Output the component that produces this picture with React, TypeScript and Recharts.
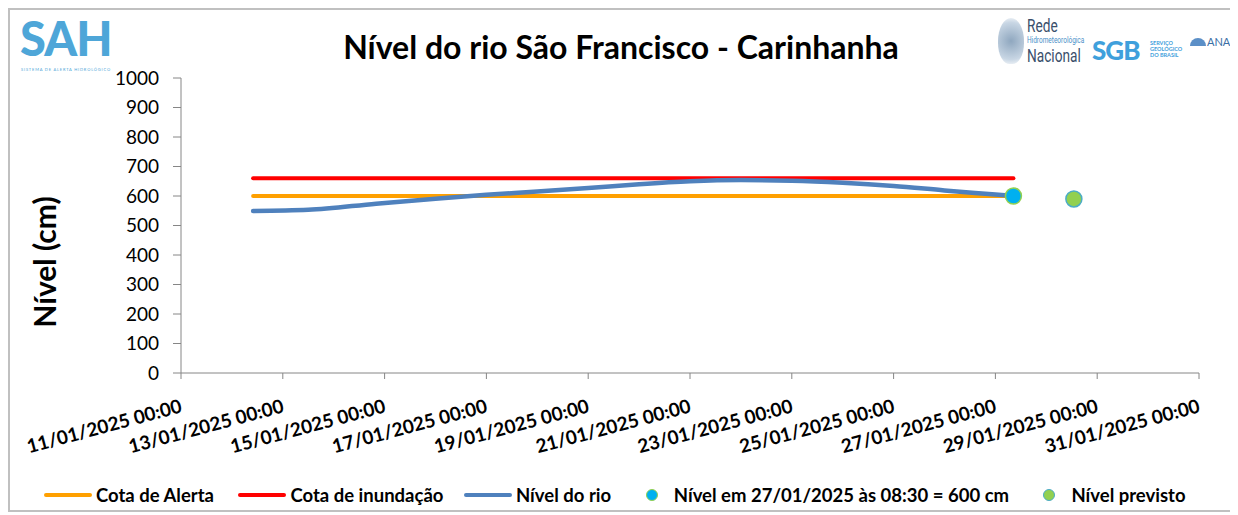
import React from "react";
import { ComposedChart, Line, Scatter, XAxis, YAxis, Legend } from "recharts";

// datas (dd/mm/aaaa hh:mm)
const nivelDatas = [
  "12/01/2025 10:00", "13/01/2025 12:00", "14/01/2025 20:00", "16/01/2025 00:00",
  "17/01/2025 00:00", "18/01/2025 00:00", "19/01/2025 00:00", "20/01/2025 00:00",
  "21/01/2025 00:00", "22/01/2025 00:00", "23/01/2025 00:00", "24/01/2025 00:00",
  "25/01/2025 00:00", "26/01/2025 00:00", "27/01/2025 00:00", "27/01/2025 08:30",
];
const nivelValores = [549, 553, 574, 591, 604, 615, 627, 640, 650, 654, 652, 645, 634, 619, 605, 600];

const cotaDatas = ["12/01/2025 10:00", "27/01/2025 08:30"];
const cotaAlerta = [600, 600];
const cotaInundacao = [660, 660];

const atualData = "27/01/2025 08:30";
const atualValor = 600;
const previstoData = "28/01/2025 13:00";
const previstoValor = 590;

const xTickLabels = [
  "11/01/2025 00:00", "13/01/2025 00:00", "15/01/2025 00:00", "17/01/2025 00:00",
  "19/01/2025 00:00", "21/01/2025 00:00", "23/01/2025 00:00", "25/01/2025 00:00",
  "27/01/2025 00:00", "29/01/2025 00:00", "31/01/2025 00:00",
];
const yTicks = [0, 100, 200, 300, 400, 500, 600, 700, 800, 900, 1000];

const FONT = "Lato, 'Open Sans', sans-serif";

// dias desde 11/01/2025 00:00
function toDays(s: string) {
  const [d, m, rest] = s.split("/");
  const [y, hm] = rest.split(" ");
  const [h, mi] = hm.split(":");
  const t = Date.UTC(+y, +m - 1, +d, +h, +mi);
  return (t - Date.UTC(2025, 0, 11)) / 86400000;
}

const nivelData = nivelDatas.map((d, i) => ({ t: toDays(d), v: nivelValores[i] }));
const alertaData = cotaDatas.map((d, i) => ({ t: toDays(d), v: cotaAlerta[i] }));
const inundacaoData = cotaDatas.map((d, i) => ({ t: toDays(d), v: cotaInundacao[i] }));
const atualData2 = [{ t: toDays(atualData), v: atualValor }];
const previstoData2 = [{ t: toDays(previstoData), v: previstoValor }];
const xTicks = xTickLabels.map(toDays);

const XTick = (props: any) => {
  const { x, y, payload } = props;
  const idx = xTicks.indexOf(payload.value);
  const lx = x + 2;
  const ly = y + 31;
  return (
    <text x={lx} y={ly} transform={`rotate(-15 ${lx} ${ly})`} textAnchor="end"
      fontFamily={FONT} fontWeight={700} fontSize={19} fill="#000">
      {xTickLabels[idx]}
    </text>
  );
};

const YLabel = () => (
  <text x={46} y={252} transform="rotate(-90 46 252)" textAnchor="middle"
    fontFamily={FONT} fontWeight={700} fontSize={30} fill="#000">
    Nível (cm)
  </text>
);

const legendItems = [
  { label: "Cota de Alerta", color: "#ffa000", kind: "line", w: 200 },
  { label: "Cota de inundação", color: "#ff0000", kind: "line", w: 232 },
  { label: "Nível do rio", color: "#4f81bd", kind: "line", w: 187 },
  { label: "Nível em 27/01/2025 às 08:30 = 600 cm", color: "#00b0f0", stroke: "#92d050", kind: "dot", w: 409 },
  { label: "Nível previsto", color: "#92d050", stroke: "#4bacc6", kind: "dot", w: 160 },
];

const LegendContent = () => (
  <div style={{ display: "flex", alignItems: "center", paddingLeft: 34, fontFamily: FONT, fontWeight: 700, fontSize: 18.5, color: "#000" }}>
    {legendItems.map((it) => (
      <div key={it.label} style={{ width: it.w, display: "flex", alignItems: "center" }}>
        {it.kind === "line" ? (
          <span style={{ width: 48, height: 4, borderRadius: 2, background: it.color, marginRight: 4 }} />
        ) : (
          <span style={{ width: 10, height: 10, borderRadius: 6, background: it.color, border: `1.5px solid ${it.stroke}`, marginRight: 16 }} />
        )}
        <span>{it.label}</span>
      </div>
    ))}
  </div>
);

const narrow: React.CSSProperties = { transform: "scaleX(0.72)", transformOrigin: "left", whiteSpace: "nowrap" };

export default function App() {
  return (
    <div style={{ position: "relative", width: 1222, height: 500, border: "2px solid #c0c0c0", background: "#fff" }}>
      {/* logo SAH */}
      <div style={{ position: "absolute", left: 10, top: 8, height: 40, fontFamily: FONT, fontSize: 47, fontWeight: 900, letterSpacing: -1, lineHeight: "40px", color: "#4ea6d8" }}>SAH</div>
      <div style={{ position: "absolute", left: 11, top: 57, fontFamily: FONT, fontSize: 4, lineHeight: "5px", letterSpacing: 0.8, color: "#4ea6d8" }}>SISTEMA DE ALERTA HIDROLÓGICO</div>
      {/* título */}
      <div style={{ position: "absolute", left: 0, width: 1222, top: 21, lineHeight: 1, textAlign: "center", fontFamily: FONT, fontWeight: 700, fontSize: 32 }}>
        Nível do rio São Francisco - Carinhanha
      </div>
      {/* logos à direita */}
      <div style={{ position: "absolute", left: 988, top: 8, width: 26, height: 46, borderRadius: "50% 50% 45% 45%", background: "radial-gradient(circle, #8fa7bf 0%, #c8d6e4 70%, #fff 100%)" }} />
      <div style={{ position: "absolute", left: 1017, top: 6, fontFamily: "Roboto, sans-serif", color: "#3a4f6b", lineHeight: 1 }}>
        <div style={{ ...narrow, fontSize: 19 }}>Rede</div>
        <div style={{ ...narrow, fontSize: 9, color: "#4a90c8", margin: "1px 0" }}>Hidrometeorológica</div>
        <div style={{ ...narrow, fontSize: 19 }}>Nacional</div>
      </div>
      <div style={{ position: "absolute", left: 1082, top: 24, fontFamily: FONT, fontWeight: 900, fontSize: 26, color: "#3fa0dc", letterSpacing: -1 }}>SGB</div>
      <div style={{ position: "absolute", left: 1140, top: 30, fontFamily: FONT, fontWeight: 700, fontSize: 5.5, color: "#3fa0dc", lineHeight: 1.1 }}>
        SERVIÇO<br />GEOLÓGICO<br />DO BRASIL
      </div>
      <div style={{ position: "absolute", left: 1180, top: 28, width: 16, height: 8, borderRadius: "8px 8px 0 0", background: "#5b8fc7" }} />
      <div style={{ position: "absolute", left: 1197, top: 25, fontFamily: FONT, fontSize: 11, color: "#3a6ea5" }}>ANA</div>

      <ComposedChart width={1222} height={500} margin={{ top: 68, right: 33, left: 0, bottom: 4 }}>
        <XAxis dataKey="t" type="number" domain={[0, 20]} ticks={xTicks} interval={0}
          tick={<XTick />} height={111} stroke="#868686" tickSize={6} allowDuplicatedCategory={false} />
        <YAxis type="number" domain={[0, 1000]} ticks={yTicks} width={171} stroke="#868686" tickSize={8} tickMargin={14}
          tick={{ fontFamily: FONT, fontSize: 19, fill: "#000" }} label={<YLabel />} interval={0} />
        <Legend verticalAlign="bottom" content={<LegendContent />} />
        <Line data={alertaData} dataKey="v" stroke="#ffa000" strokeWidth={4} dot={false}
          strokeLinecap="round" isAnimationActive={false} />
        <Line data={inundacaoData} dataKey="v" stroke="#ff0000" strokeWidth={4} dot={false}
          strokeLinecap="round" isAnimationActive={false} />
        <Line data={nivelData} dataKey="v" type="monotone" stroke="#4f81bd" strokeWidth={4.5} dot={false}
          strokeLinecap="round" isAnimationActive={false} />
        <Scatter data={atualData2} dataKey="v" fill="#00b0f0" stroke="#92d050" strokeWidth={1.5}
          shape={(p: any) => <circle cx={p.cx} cy={p.cy} r={8} fill="#00b0f0" stroke="#92d050" strokeWidth={1.5} />}
          isAnimationActive={false} />
        <Scatter data={previstoData2} dataKey="v" fill="#92d050" stroke="#4bacc6" strokeWidth={1.5}
          shape={(p: any) => <circle cx={p.cx} cy={p.cy} r={8} fill="#92d050" stroke="#4bacc6" strokeWidth={1.5} />}
          isAnimationActive={false} />
      </ComposedChart>
    </div>
  );
}
